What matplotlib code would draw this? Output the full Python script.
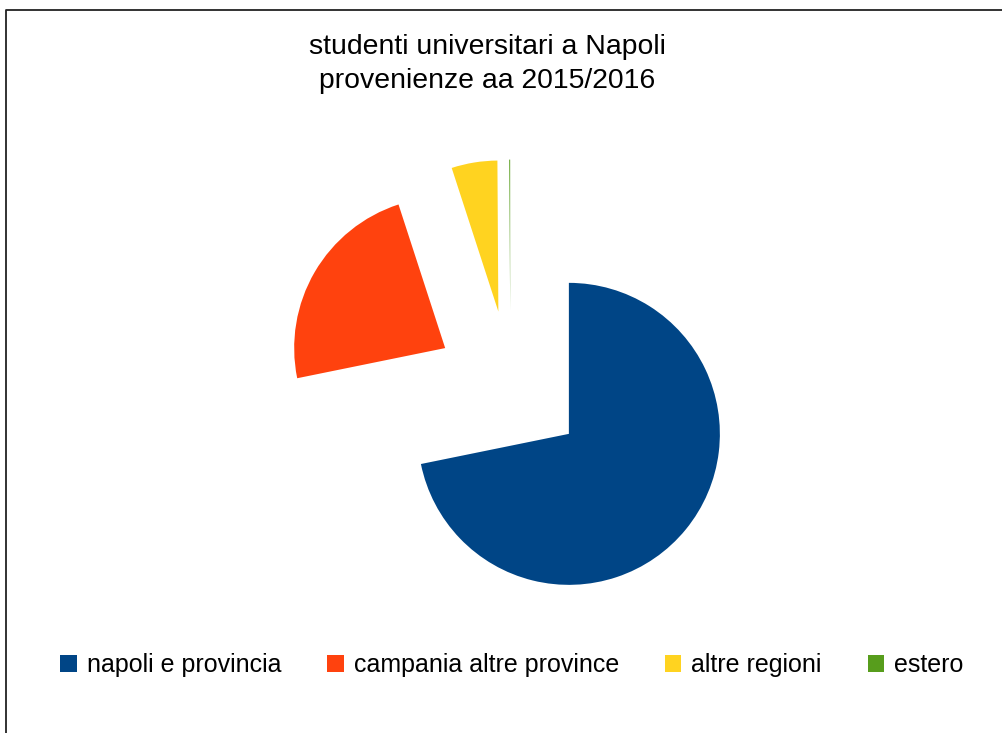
import numpy as np
import matplotlib.pyplot as plt
from matplotlib.lines import Line2D

plt.rcParams['font.family'] = ['Liberation Sans', 'DejaVu Sans']

# provenienze degli studenti (% del totale)
labels = ['napoli e provincia', 'campania altre province', 'altre regioni', 'estero']
values = [71.8, 23.2, 4.9, 0.1]
colors = ['#004586', '#ff420e', '#ffd320', '#579d1c']
title = 'studenti universitari a Napoli\nprovenienze aa 2015/2016'

W, H = 1002, 733
fig = plt.figure(figsize=(W / 100, H / 100), dpi=100)

# pie centre at about (510, 386) px, radius 151 px -> axes of 604 px spanning [-2, 2]
cx, cy, r = 510.4, 386.1, 151
side = 4 * r
ax = fig.add_axes([(cx - side / 2) / W, (H - cy - side / 2) / H, side / W, side / H])
wedges, _ = ax.pie(values, colors=colors, startangle=90, counterclock=False,
                   explode=[0.5] * len(values), radius=1)
ax.set_xlim(-2, 2)
ax.set_ylim(-2, 2)
ax.axis('off')

fig.text(487 / W, 1 - 64 / H, title, ha='center', va='center',
         fontsize=20.4, linespacing=1.42)

leg = fig.legend(wedges, labels, loc='center', bbox_to_anchor=(512 / W, 1 - 665 / H),
                 ncol=4, frameon=False, fontsize=18, handlelength=0.65, handleheight=0.65,
                 handletextpad=0.4, columnspacing=1.85)

# chart frame (left and top edges only visible)
fig.add_artist(Line2D([6 / W, 6 / W, 1.0], [0.0, 1 - 10 / H, 1 - 10 / H],
                      transform=fig.transFigure, color='#222222', lw=1.3))

fig.savefig('out.png', dpi=100)
